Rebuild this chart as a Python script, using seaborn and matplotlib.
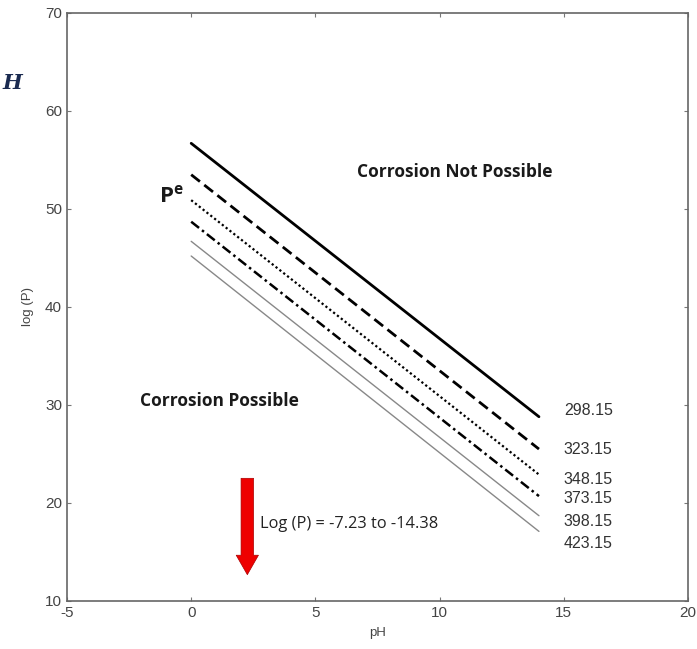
import matplotlib
matplotlib.use("Agg")
import matplotlib.pyplot as plt
import seaborn as sns
import pandas as pd

sns.set_style("white")
plt.rcParams['font.family'] = ['Liberation Sans', 'DejaVu Sans']
plt.rcParams['axes.unicode_minus'] = False

# Data
temperatures = ["298.15", "323.15", "348.15", "373.15", "398.15", "423.15"]
ph_range = [0, 14]
logp_at_ph0 = [56.7, 53.5, 50.9, 48.7, 46.7, 45.2]
logp_at_ph14 = [28.8, 25.5, 22.9, 20.7, 18.7, 17.1]
label_y = [29.4, 25.5, 22.4, 20.5, 18.1, 15.9]

styles = [
    dict(color="black", lw=2.0, ls="-"),
    dict(color="black", lw=2.0, ls=(0, (4, 2))),
    dict(color="black", lw=1.6, ls=(0, (1, 1.2))),
    dict(color="black", lw=1.8, ls=(0, (4, 1.5, 1, 1.5))),
    dict(color="#888888", lw=1.0, ls="-"),
    dict(color="#888888", lw=1.0, ls="-"),
]

fig = plt.figure(figsize=(6.97, 6.49), dpi=100)
ax = fig.add_axes([0.0961, 0.074, 0.891, 0.906])

for t, y0, y1, st in zip(temperatures, logp_at_ph0, logp_at_ph14, styles):
    df = pd.DataFrame({"pH": ph_range, "logP": [y0, y1]})
    sns.lineplot(data=df, x="pH", y="logP", ax=ax, color=st["color"],
                 linewidth=st["lw"], linestyle=st["ls"], legend=False)

for t, ly in zip(temperatures, label_y):
    ax.text(15.0, ly, t, fontsize=11.5, color="#333333", va="center", ha="left")

ax.set_xlim(-5, 20)
ax.set_ylim(10, 70)
ax.set_xticks([-5, 0, 5, 10, 15, 20])
ax.set_yticks([10, 20, 30, 40, 50, 60, 70])
ax.set_xlabel("pH", fontsize=9.5, color="#444444", labelpad=5)
ax.set_ylabel("log (P)", fontsize=9.5, color="#444444", labelpad=8)
ax.tick_params(direction="in", length=3, width=0.8, colors="#777777",
               labelcolor="#444444", labelsize=11, top=True, right=True,
               bottom=True, left=True)
for s in ax.spines.values():
    s.set_color("#666666")
    s.set_linewidth(1.2)

ax.text(10.6, 53.8, "Corrosion Not Possible", fontsize=12.5, fontweight="bold",
        family=["Open Sans", "DejaVu Sans"], ha="center", va="center", color="#1a1a1a")
ax.text(1.15, 30.4, "Corrosion Possible", fontsize=12.5, fontweight="bold",
        family=["Open Sans", "DejaVu Sans"], ha="center", va="center", color="#1a1a1a")
ax.text(-0.8, 51.3, r"P$^{\mathregular{e}}$", fontsize=16, fontweight="bold",
        family=["Open Sans", "DejaVu Sans"], ha="center", va="center", color="#1a1a1a")
ax.text(2.75, 17.9, "Log (P) = -7.23 to -14.38", fontsize=11.8,
        family=["Open Sans", "DejaVu Sans"], ha="left", va="center", color="#222222")

ax.annotate("", xy=(2.26, 12.4), xytext=(2.26, 22.8),
            arrowprops=dict(arrowstyle="simple,head_width=1.6,head_length=1.4,tail_width=0.9",
                            fc="#ee0000", ec="#aa0000", lw=0.5))

fig.text(0.003, 0.872, "H", fontsize=15, style="italic", fontweight="bold",
         family=["DejaVu Serif"], color="#1a2a50", ha="left", va="center")

fig.savefig("out.png", dpi=100)
